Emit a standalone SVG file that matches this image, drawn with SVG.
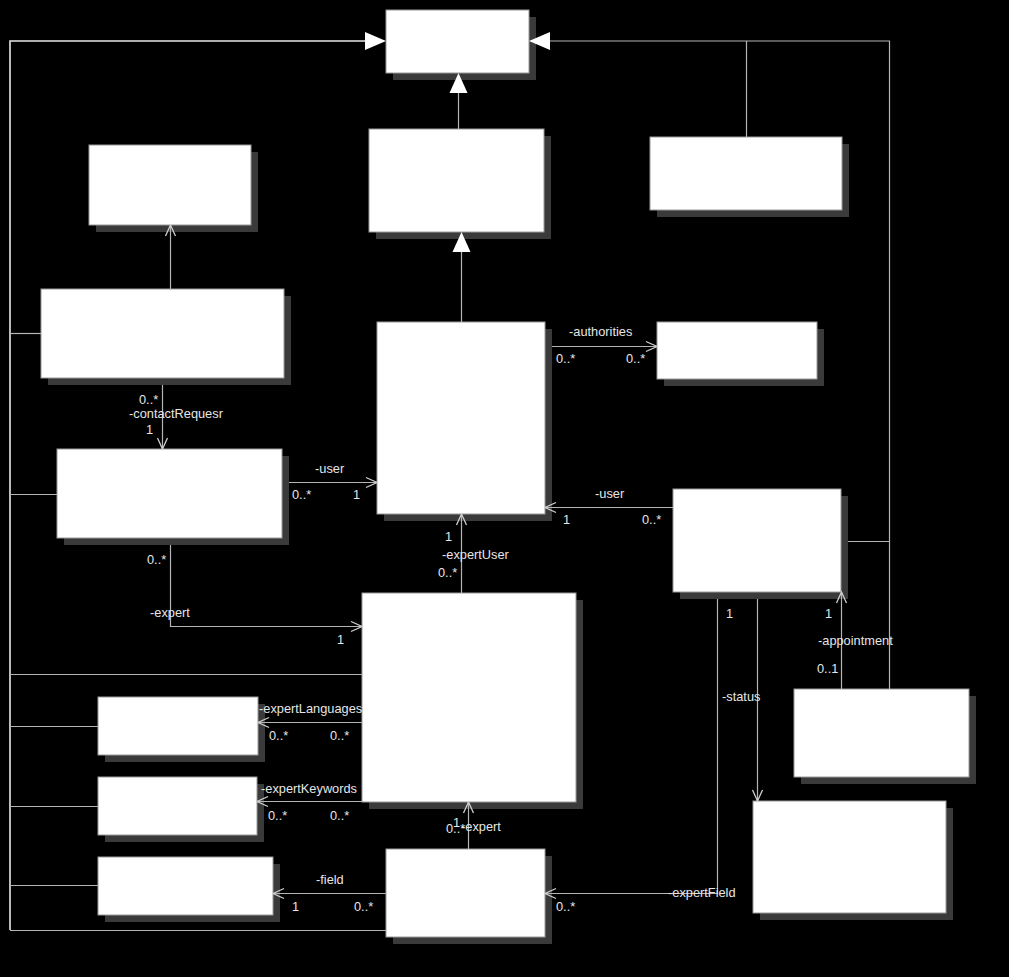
<svg xmlns="http://www.w3.org/2000/svg" width="1009" height="977" viewBox="0 0 1009 977">
<style>
.bg{fill:#000}
.sh{fill:#3a3a3a}
.bx{fill:#fff;stroke:#999;stroke-width:1}
.ln{fill:none;stroke:#b4b4b4;stroke-width:1.2}
.lw{fill:none;stroke:#e8e8e8;stroke-width:1.6}
.tri{fill:#fff;stroke:none}
text{font-family:"Liberation Sans",Arial,sans-serif;font-size:12.8px;fill:#e6e6e6}
</style>
<defs>
<marker id="open" markerUnits="userSpaceOnUse" markerWidth="14" markerHeight="14" refX="12" refY="6" orient="auto" viewBox="0 0 14 12">
<path d="M1,1 L12,6 L1,11" fill="none" stroke="#d0d0d0" stroke-width="1.3"/>
</marker>
</defs>
<rect class="bg" x="0" y="0" width="1009" height="977"/>

<g id="n1"><rect class="sh" x="393" y="17" width="143" height="63"/><rect class="bx" x="386" y="10" width="143" height="63"/></g>
<g id="n2"><rect class="sh" x="376" y="136" width="175" height="103"/><rect class="bx" x="369" y="129" width="175" height="103"/></g>
<g id="n3"><rect class="sh" x="96" y="152" width="162" height="80"/><rect class="bx" x="89" y="145" width="162" height="80"/></g>
<g id="n4"><rect class="sh" x="657" y="144" width="192" height="73"/><rect class="bx" x="650" y="137" width="192" height="73"/></g>
<g id="n5"><rect class="sh" x="48" y="296" width="243" height="89"/><rect class="bx" x="41" y="289" width="243" height="89"/></g>
<g id="n6"><rect class="sh" x="64" y="456" width="225" height="89"/><rect class="bx" x="57" y="449" width="225" height="89"/></g>
<g id="n7"><rect class="sh" x="384" y="329" width="168" height="192"/><rect class="bx" x="377" y="322" width="168" height="192"/></g>
<g id="n8"><rect class="sh" x="664" y="329" width="160" height="57"/><rect class="bx" x="657" y="322" width="160" height="57"/></g>
<g id="n9"><rect class="sh" x="680" y="496" width="168" height="103"/><rect class="bx" x="673" y="489" width="168" height="103"/></g>
<g id="n10"><rect class="sh" x="369" y="600" width="214" height="209"/><rect class="bx" x="362" y="593" width="214" height="209"/></g>
<g id="n11"><rect class="sh" x="105" y="704" width="160" height="58"/><rect class="bx" x="98" y="697" width="160" height="58"/></g>
<g id="n12"><rect class="sh" x="105" y="784" width="159" height="58"/><rect class="bx" x="98" y="777" width="159" height="58"/></g>
<g id="n13"><rect class="sh" x="105" y="864" width="175" height="58"/><rect class="bx" x="98" y="857" width="175" height="58"/></g>
<g id="n14"><rect class="sh" x="393" y="856" width="159" height="88"/><rect class="bx" x="386" y="849" width="159" height="88"/></g>
<g id="n15"><rect class="sh" x="801" y="696" width="175" height="88"/><rect class="bx" x="794" y="689" width="175" height="88"/></g>
<g id="n16"><rect class="sh" x="760" y="808" width="193" height="112"/><rect class="bx" x="753" y="801" width="193" height="112"/></g>

<g id="connectors">
<!-- left bus -->
<polyline class="lw" points="10,930 10,41 366,41"/>
<polygon class="tri" points="386,41 365,32 365,50"/>
<line class="ln" x1="10" y1="333.5" x2="41" y2="333.5"/>
<line class="ln" x1="10" y1="494.5" x2="57" y2="494.5"/>
<line class="ln" x1="10" y1="674.5" x2="362" y2="674.5"/>
<line class="ln" x1="10" y1="726.5" x2="98" y2="726.5"/>
<line class="ln" x1="10" y1="806.5" x2="98" y2="806.5"/>
<line class="ln" x1="10" y1="885.5" x2="98" y2="885.5"/>
<line class="ln" x1="10" y1="930.5" x2="386" y2="930.5"/>
<!-- right bus -->
<polyline class="ln" points="550,41 889.5,41 889.5,689"/>
<polygon class="tri" points="529,41 550,32 550,50"/>
<line class="ln" x1="746.5" y1="41" x2="746.5" y2="137"/>
<line class="ln" x1="848" y1="541.5" x2="889.5" y2="541.5"/>
<!-- generalizations -->
<line class="ln" x1="458.5" y1="129" x2="458.5" y2="92"/>
<polygon class="tri" points="458.5,73 449.5,93 467.5,93"/>
<line class="ln" x1="461.5" y1="322" x2="461.5" y2="251"/>
<polygon class="tri" points="461.5,232 452.5,252 470.5,252"/>
<!-- associations -->
<line class="ln" x1="170.5" y1="290" x2="170.5" y2="225" marker-end="url(#open)"/>
<line class="ln" x1="162.5" y1="385" x2="162.5" y2="449" marker-end="url(#open)"/>
<line class="ln" x1="289" y1="482.5" x2="377" y2="482.5" marker-end="url(#open)"/>
<line class="ln" x1="552" y1="346.5" x2="657" y2="346.5" marker-end="url(#open)"/>
<line class="ln" x1="673" y1="507.5" x2="545" y2="507.5" marker-end="url(#open)"/>
<line class="ln" x1="461.5" y1="593" x2="461.5" y2="514" marker-end="url(#open)"/>
<polyline class="ln" points="170.5,545 170.5,626.5 362,626.5" marker-end="url(#open)"/>
<line class="ln" x1="362" y1="722.5" x2="258" y2="722.5" marker-end="url(#open)"/>
<line class="ln" x1="362" y1="801.5" x2="257" y2="801.5" marker-end="url(#open)"/>
<line class="ln" x1="468.5" y1="849" x2="468.5" y2="802" marker-end="url(#open)"/>
<line class="ln" x1="386" y1="893.5" x2="273" y2="893.5" marker-end="url(#open)"/>
<polyline class="ln" points="717.5,599 717.5,893.5 545,893.5" marker-end="url(#open)"/>
<line class="ln" x1="757.5" y1="599" x2="757.5" y2="801" marker-end="url(#open)"/>
<line class="ln" x1="841.5" y1="689" x2="841.5" y2="592" marker-end="url(#open)"/>

<text x="139" y="404">0..*</text>
<text x="129" y="418">-contactRequesr</text>
<text x="146" y="434">1</text>
<text x="315" y="473">-user</text>
<text x="292" y="499">0..*</text>
<text x="353" y="499">1</text>
<text x="569" y="336">-authorities</text>
<text x="556" y="363">0..*</text>
<text x="626" y="363">0..*</text>
<text x="595" y="498">-user</text>
<text x="563" y="524">1</text>
<text x="642" y="524">0..*</text>
<text x="445" y="541">1</text>
<text x="442" y="559">-expertUser</text>
<text x="438" y="577">0..*</text>
<text x="147" y="564">0..*</text>
<text x="150" y="617">-expert</text>
<text x="337" y="644">1</text>
<text x="259" y="713">-expertLanguages</text>
<text x="269" y="740">0..*</text>
<text x="330" y="740">0..*</text>
<text x="261" y="793">-expertKeywords</text>
<text x="268" y="820">0..*</text>
<text x="330" y="820">0..*</text>
<text x="446" y="833">0..*</text>
<text x="453" y="827">1</text>
<text x="461" y="831">-expert</text>
<text x="316" y="884">-field</text>
<text x="292" y="911">1</text>
<text x="354" y="911">0..*</text>
<text x="556" y="911">0..*</text>
<text x="668" y="897">-expertField</text>
<text x="726" y="618">1</text>
<text x="825" y="618">1</text>
<text x="818" y="645">-appointment</text>
<text x="817" y="673">0..1</text>
<text x="722" y="701">-status</text>
</g>
</svg>
